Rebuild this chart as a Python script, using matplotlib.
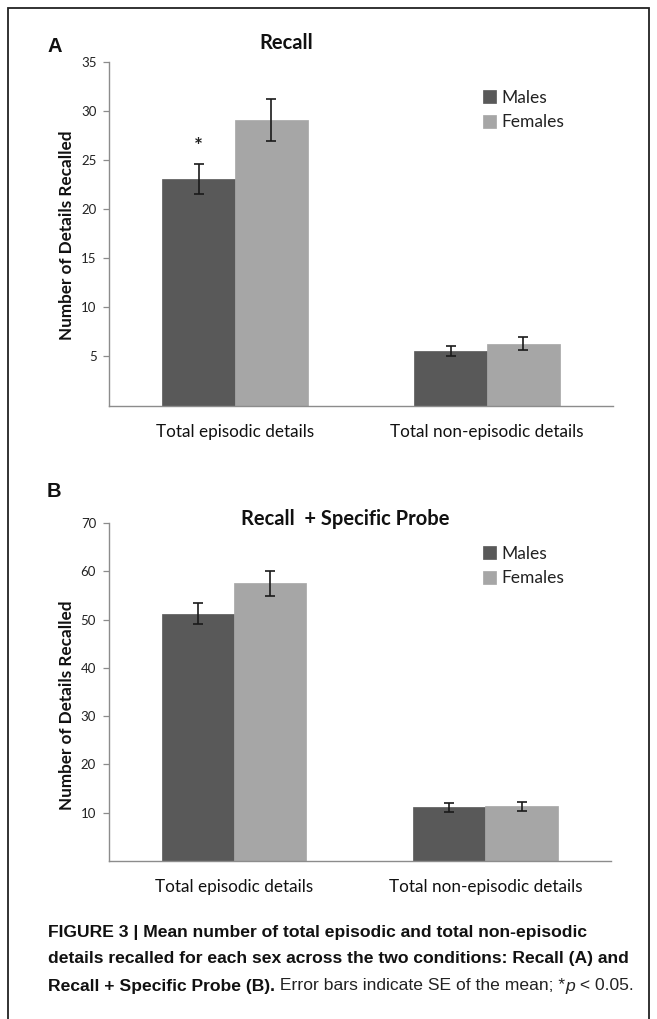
import matplotlib
matplotlib.use("Agg")
import matplotlib.pyplot as plt
from matplotlib.patches import Rectangle
import numpy as np

# ---- data ----
categories = ["Total episodic details", "Total non-episodic details"]
series_names = ["Males", "Females"]

recall_males = [23.1, 5.55]
recall_females = [29.1, 6.3]
recall_males_se = [1.5, 0.5]
recall_females_se = [2.1, 0.65]

probe_males = [51.2, 11.1]
probe_females = [57.5, 11.3]
probe_males_se = [2.2, 0.9]
probe_females_se = [2.6, 0.9]

recall_yticks = [5, 10, 15, 20, 25, 30, 35]
probe_yticks = [10, 20, 30, 40, 50, 60, 70]

sig_marks = [["*", ""], ["", ""]]  # Recall panel: star over males episodic

# ---- style ----
W, H = 657, 1019
DPI = 100
male_c = "#595959"
female_c = "#A6A6A6"
axis_c = "#8C8C8C"
chart_font = ["Lato", "DejaVu Sans"]
cap_font = ["Liberation Sans", "DejaVu Sans"]

fig = plt.figure(figsize=(W / DPI, H / DPI), dpi=DPI)


def fx(px):
    return px / W


def fy(py):
    return 1 - py / H


# outer border
fig.patches.append(Rectangle((fx(8), fy(1030)), fx(649) - fx(8), fy(8) - fy(1030),
                             transform=fig.transFigure, fill=False,
                             edgecolor="#222222", linewidth=1.3))


def panel(rect, males, females, mse, fse, yticks, ymax, title, title_xy,
          letter_xy, letter, legend_xy, ylabel_y, marks):
    ax = fig.add_axes(rect)
    x = np.arange(len(categories))
    w = 0.288
    ax.bar(x - w / 2, males, w, color=male_c, label=series_names[0],
           edgecolor=male_c, linewidth=0.5)
    ax.bar(x + w / 2, females, w, color=female_c, label=series_names[1],
           edgecolor=female_c, linewidth=0.5)
    ax.errorbar(x - w / 2, males, yerr=mse, fmt="none", ecolor="#1a1a1a",
                elinewidth=1.2, capsize=3.5, capthick=1.2)
    ax.errorbar(x + w / 2, females, yerr=fse, fmt="none", ecolor="#1a1a1a",
                elinewidth=1.2, capsize=3.5, capthick=1.2)
    for i in range(len(categories)):
        if marks[i]:
            ax.annotate(marks[i], xy=(x[i] - w / 2, males[i] + mse[i]),
                        xytext=(0, 5), textcoords="offset points",
                        ha="center", va="bottom", fontsize=15,
                        fontweight="bold", family=chart_font, color="#222222")
    ax.set_xlim(-0.5, 1.5)
    ax.set_ylim(0, ymax)
    ax.set_yticks(yticks)
    ax.set_yticklabels([str(t) for t in yticks], family=chart_font,
                       fontsize=9.5, color="#222222")
    ax.set_xticks(x)
    ax.set_xticklabels(categories, family=chart_font, fontsize=12.3,
                       color="#111111")
    ax.tick_params(axis="x", length=0, pad=13)
    ax.tick_params(axis="y", length=4, color=axis_c, width=0.9, pad=5)
    for s in ["top", "right"]:
        ax.spines[s].set_visible(False)
    for s in ["left", "bottom"]:
        ax.spines[s].set_color(axis_c)
        ax.spines[s].set_linewidth(1.0)
    fig.text(fx(67), fy(ylabel_y), "Number of Details Recalled", rotation=90,
             ha="center", va="center", family=chart_font, fontsize=12.3,
             fontweight="bold", color="#111111")
    fig.text(fx(title_xy[0]), fy(title_xy[1]), title, ha="center",
             va="center", family=chart_font, fontsize=14.5, fontweight="bold",
             color="#111111")
    fig.text(fx(letter_xy[0]), fy(letter_xy[1]), letter, ha="left",
             va="center", family=["Liberation Sans", "DejaVu Sans"],
             fontsize=14.5, fontweight="bold", color="#111111")
    leg = ax.legend(loc="upper left",
                    bbox_to_anchor=(fx(legend_xy[0]), fy(legend_xy[1])),
                    bbox_transform=fig.transFigure, frameon=False,
                    handlelength=0.75, handleheight=0.75, handletextpad=0.3,
                    labelspacing=0.5, borderpad=0,
                    prop={"family": chart_font, "size": 12.5})
    for t in leg.get_texts():
        t.set_color("#222222")
    return ax


# Panel A
axA = panel([fx(109), fy(405.5), fx(613) - fx(109), fy(62) - fy(405.5)],
            recall_males, recall_females, recall_males_se, recall_females_se,
            recall_yticks, 35, "Recall", (286, 43), (47, 46), "A", (474, 81),
            235, sig_marks[0])

# Panel B
axB = panel([fx(108.5), fy(861), fx(611) - fx(108.5), fy(523) - fy(861)],
            probe_males, probe_females, probe_males_se, probe_females_se,
            probe_yticks, 70, "Recall  + Specific Probe", (345, 519), (47, 492),
            "B", (474, 537), 705, sig_marks[1])

# ---- caption ----
cap_size = 12.6
fig.text(fx(48), fy(933),
         "FIGURE 3 | Mean number of total episodic and total non-episodic",
         ha="left", va="center", family=cap_font, fontsize=cap_size,
         fontweight="bold", color="#111111")
fig.text(fx(48), fy(959),
         "details recalled for each sex across the two conditions: Recall (A) and",
         ha="left", va="center", family=cap_font, fontsize=cap_size,
         fontweight="bold", color="#111111")
t3 = fig.text(fx(48), fy(986), "Recall + Specific Probe (B).",
              ha="left", va="center", family=cap_font, fontsize=cap_size,
              fontweight="bold", color="#111111")
ann1 = axB.annotate(" Error bars indicate SE of the mean; *", xy=(1, 0),
                    xycoords=t3, ha="left", va="bottom", family=cap_font,
                    fontsize=cap_size, color="#222222", annotation_clip=False)
ann2 = axB.annotate("p", xy=(1, 0), xycoords=ann1, ha="left", va="bottom",
                    family=cap_font, fontsize=cap_size, style="italic",
                    color="#222222", annotation_clip=False)
ann3 = axB.annotate(" < 0.05.", xy=(1, 0), xycoords=ann2, ha="left",
                    va="bottom", family=cap_font, fontsize=cap_size,
                    color="#222222", annotation_clip=False)

fig.savefig("out.png", dpi=DPI)
